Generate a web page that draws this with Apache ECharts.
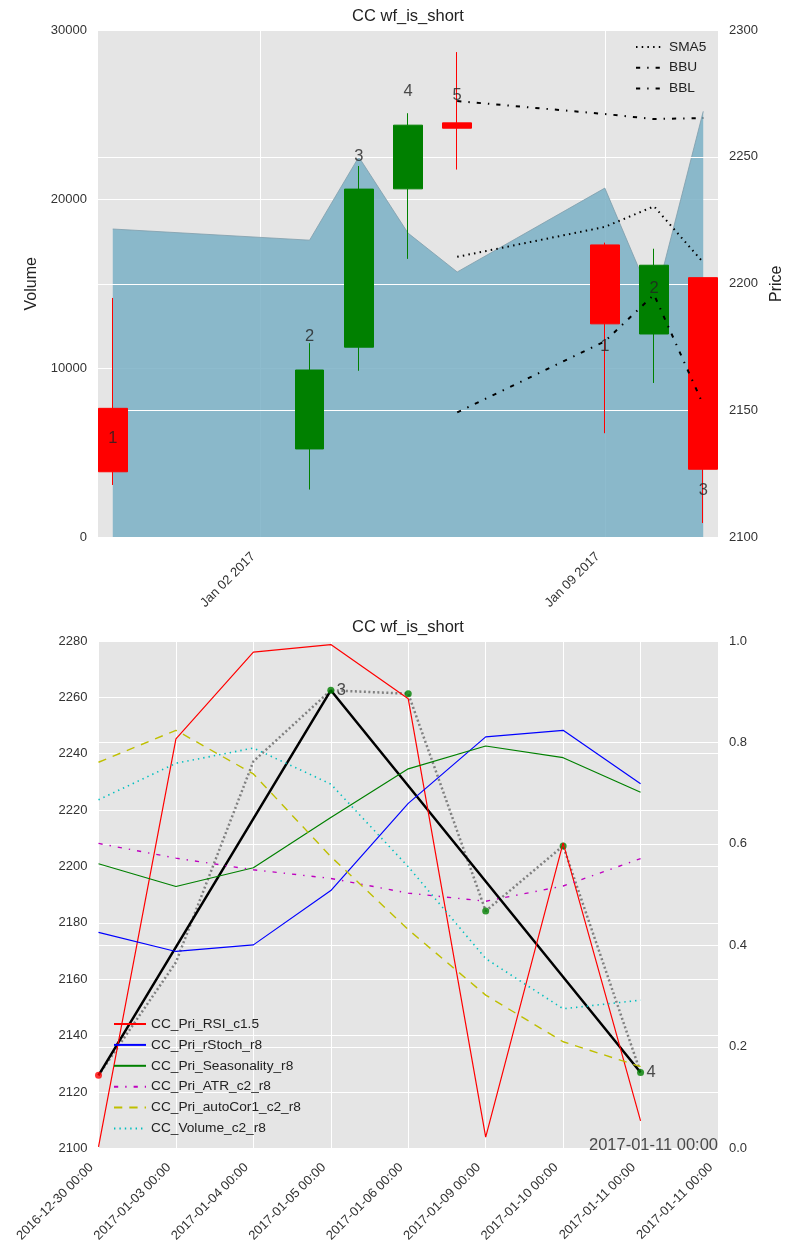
<!DOCTYPE html>
<html><head><meta charset="utf-8">
<script src="https://cdn.jsdelivr.net/npm/echarts@6/dist/echarts.min.js"></script>
<style>html,body{margin:0;padding:0;background:#fff}#c{width:790px;height:1256px}</style>
</head><body><div id="c"></div>
<script>
// ---------- top chart data ----------
const candleDates = ['2016-12-30','2017-01-03','2017-01-04','2017-01-05','2017-01-06','2017-01-09','2017-01-10','2017-01-11'];
const candleOpen  = [2150.9, 2134.9, 2175.0, 2237.4, 2263.4, 2215.3, 2180.2, 2202.4];
const candleClose = [2125.9, 2166.0, 2237.3, 2262.5, 2261.3, 2184.2, 2207.3, 2126.9];
const candleLow   = [2120.7, 2118.9, 2165.7, 2209.8, 2245.0, 2141.1, 2160.9, 2105.7];
const candleHigh  = [2194.4, 2176.6, 2246.4, 2267.2, 2291.3, 2216.2, 2213.8, 2202.4];
const volume      = [18236, 17576, 22494, 17996, 15696, 20655, 13800, 25194];
const bandDates   = ['2017-01-06','2017-01-09','2017-01-10','2017-01-11'];
const sma5        = [2210.6, 2222.4, 2230.5, 2208.4];
const bbu         = [2272.0, 2266.9, 2264.9, 2265.3];
const bbl         = [2149.3, 2177.3, 2195.7, 2152.3];
const topLabelPrices = [2139.1, 2179.3, 2250.3, 2275.6, 2274.4, 2175.4, 2198.0, 2118.4];
const topLabelTexts  = ['1','2','3','4','5','1','2','3'];
const topTickDates   = ['2017-01-02','2017-01-09'];

// ---------- bottom chart data ----------
const bottomCats = ['2016-12-30 00:00','2017-01-03 00:00','2017-01-04 00:00','2017-01-05 00:00','2017-01-06 00:00','2017-01-09 00:00','2017-01-10 00:00','2017-01-11 00:00','2017-01-11 00:00'];
const rsi         = [0.003, 0.807, 0.978, 0.993, 0.886, 0.022, 0.602, 0.054];
const rStoch      = [0.4255, 0.388, 0.401, 0.508, 0.680, 0.811, 0.824, 0.7187];
const seasonality = [0.561, 0.516, 0.553, 0.652, 0.748, 0.793, 0.770, 0.702];
const atr         = [0.601, 0.572, 0.549, 0.532, 0.503, 0.487, 0.517, 0.571];
const autoCor     = [0.761, 0.824, 0.738, 0.575, 0.431, 0.302, 0.210, 0.161];
const volNorm     = [0.687, 0.759, 0.789, 0.718, 0.555, 0.374, 0.275, 0.292];
const closeLine   = [2125.9, 2166.0, 2237.3, 2262.5, 2261.3, 2184.2, 2207.3, 2126.9];
const tradeLine   = [2125.9, null, null, 2262.5, null, null, null, 2126.9];
const entryIdx = [0],             entryPrice = [2125.9];
const exitIdx  = [3, 4, 5, 6, 7], exitPrice  = [2262.5, 2261.3, 2184.2, 2207.3, 2126.9];
const tradeLabelIdx = [3, 7], tradeLabelPrice = [2262.5, 2126.9], tradeLabelText = ['3', '4'];
const noteIdx = 8, notePrice = 2100, noteText = '2017-01-11 00:00';

// ---------- helpers ----------
const DAY = 86400000;
const ts = s => { const p = s.split('-').map(Number); return Date.UTC(p[0], p[1] - 1, p[2]); };
const MONTHS = ['Jan','Feb','Mar','Apr','May','Jun','Jul','Aug','Sep','Oct','Nov','Dec'];
const fmtTop = v => { const d = new Date(v); return MONTHS[d.getUTCMonth()] + ' ' + String(d.getUTCDate()).padStart(2, '0') + ' ' + d.getUTCFullYear(); };
const FONT = 'Liberation Sans, Arial, Helvetica, sans-serif';
const TICK = '#333';
const CANDLE_PAD = 0.3 * DAY;
const plain = v => String(v);

const chart = echarts.init(document.getElementById('c'), null, {renderer: 'canvas'});

const gridLine = {show: true, lineStyle: {color: '#ffffff', width: 1}};
const dotted = [1.5, 4.2];
const dashdot = [4.2, 7, 1.4, 7];

function lineSeries(name, data, color, type, width, yIdx, xIdx, z, extra) {
  return Object.assign({
    name, type: 'line', xAxisIndex: xIdx, yAxisIndex: yIdx, data, symbol: 'none', z,
    lineStyle: {color, width, type}, itemStyle: {color}, animation: false
  }, extra || {});
}

const option = {
  animation: false,
  backgroundColor: '#ffffff',
  textStyle: {fontFamily: FONT},
  graphic: [
    {type: 'text', x: 408, y: 16.5, style: {text: 'CC wf_is_short', fill: '#222', font: '16.5px ' + FONT, align: 'center', verticalAlign: 'middle'}},
    {type: 'text', x: 408, y: 627, style: {text: 'CC wf_is_short', fill: '#222', font: '16.5px ' + FONT, align: 'center', verticalAlign: 'middle'}}
  ],
  grid: [
    {left: 98, right: 72, top: 30, height: 507.5, show: true, backgroundColor: '#e5e5e5', borderWidth: 0, outerBoundsMode: 'none', containLabel: false},
    {left: 98.5, right: 72, top: 641, height: 507.3, show: true, backgroundColor: '#e5e5e5', borderWidth: 0, outerBoundsMode: 'none', containLabel: false}
  ],
  legend: [
    {data: ['SMA5', 'BBU', 'BBL'], orient: 'vertical', left: 635, top: 40, padding: 0, itemWidth: 28, itemHeight: 14, itemGap: 6.7,
     textStyle: {fontSize: 13.7, color: '#222', fontFamily: FONT}, itemStyle: {opacity: 0}, selectedMode: false},
    {data: ['CC_Pri_RSI_c1.5','CC_Pri_rStoch_r8','CC_Pri_Seasonality_r8','CC_Pri_ATR_c2_r8','CC_Pri_autoCor1_c2_r8','CC_Volume_c2_r8'],
     orient: 'vertical', left: 113, top: 1017, padding: 0, itemWidth: 32, itemHeight: 14, itemGap: 6.9,
     textStyle: {fontSize: 13.7, color: '#222', fontFamily: FONT}, itemStyle: {opacity: 0}, selectedMode: false}
  ],
  xAxis: [
    {type: 'value', gridIndex: 0, min: ts(candleDates[0]) - CANDLE_PAD, max: ts(candleDates[candleDates.length - 1]) + CANDLE_PAD,
     axisLine: {show: false}, axisTick: {show: false, customValues: topTickDates.map(ts)},
     axisLabel: {customValues: topTickDates.map(ts), formatter: fmtTop, rotate: 45, margin: 10, padding: [0, 10, 0, 0], fontSize: 13, color: TICK, fontFamily: FONT},
     splitLine: gridLine, z: 0},
    {type: 'category', gridIndex: 1, data: bottomCats, boundaryGap: false,
     axisLine: {show: false}, axisTick: {show: false},
     axisLabel: {interval: 0, rotate: 45, margin: 10, padding: [0, 10, 0, 0], fontSize: 13, color: TICK, fontFamily: FONT},
     splitLine: Object.assign({interval: 0}, gridLine)}
  ],
  yAxis: [
    {type: 'value', gridIndex: 0, position: 'left', min: 0, max: 30000, interval: 10000,
     name: 'Volume', nameLocation: 'middle', nameRotate: 90, nameGap: 53, nameTextStyle: {fontSize: 16, color: '#222', fontFamily: FONT},
     axisLine: {show: false}, axisTick: {show: false}, axisLabel: {margin: 11, fontSize: 13, color: TICK, fontFamily: FONT, formatter: plain},
     splitLine: gridLine, z: 0},
    {type: 'value', gridIndex: 0, position: 'right', min: 2100, max: 2300, interval: 50,
     name: 'Price', nameLocation: 'middle', nameRotate: 90, nameGap: 46, nameTextStyle: {fontSize: 16, color: '#222', fontFamily: FONT},
     axisLine: {show: false}, axisTick: {show: false}, axisLabel: {margin: 11, fontSize: 13, color: TICK, fontFamily: FONT, formatter: plain},
     splitLine: gridLine, z: 2},
    {type: 'value', gridIndex: 1, position: 'left', min: 2100, max: 2280, interval: 20,
     axisLine: {show: false}, axisTick: {show: false}, axisLabel: {margin: 11, fontSize: 13, color: TICK, fontFamily: FONT, formatter: plain},
     splitLine: gridLine},
    {type: 'value', gridIndex: 1, position: 'right', min: 0, max: 1, interval: 0.2,
     axisLine: {show: false}, axisTick: {show: false}, axisLabel: {margin: 11, fontSize: 13, color: TICK, fontFamily: FONT, formatter: v => v.toFixed(1)},
     splitLine: gridLine}
  ],
  series: [
    lineSeries('Volume', candleDates.map((d, i) => [ts(d), volume[i]]), '#7f9dab', 'solid', 0.8, 0, 0, 1,
      {areaStyle: {color: 'rgba(122,176,198,0.85)', opacity: 1}}),
    {name: 'CC', type: 'candlestick', xAxisIndex: 0, yAxisIndex: 1, z: 3, barWidth: 29,
     encode: {x: 0, y: [1, 2, 3, 4]},
     data: candleDates.map((d, i) => [ts(d), candleOpen[i], candleClose[i], candleLow[i], candleHigh[i]]),
     itemStyle: {color: '#008000', color0: '#ff0000', borderColor: '#008000', borderColor0: '#ff0000', borderWidth: 1}},
    lineSeries('SMA5', bandDates.map((d, i) => [ts(d), sma5[i]]), '#000000', dotted, 2, 1, 0, 4),
    lineSeries('BBU', bandDates.map((d, i) => [ts(d), bbu[i]]), '#000000', dashdot, 2, 1, 0, 4),
    lineSeries('BBL', bandDates.map((d, i) => [ts(d), bbl[i]]), '#000000', dashdot, 2, 1, 0, 4),
    {name: 'candleLabels', type: 'scatter', xAxisIndex: 0, yAxisIndex: 1, z: 5, symbolSize: 1, clip: false,
     itemStyle: {color: 'rgba(0,0,0,0)'},
     data: candleDates.map((d, i) => [ts(d), topLabelPrices[i], topLabelTexts[i]]),
     label: {show: true, position: 'inside', formatter: p => p.value[2], fontSize: 16.5, color: '#222', fontFamily: FONT}},

    // bottom: price lines (left axis)
    lineSeries('close', closeLine, '#808080', [2, 2.5], 2.5, 2, 1, 2),
    lineSeries('trade', tradeLine, '#000000', 'solid', 2.5, 2, 1, 2, {connectNulls: true}),
    {name: 'entry', type: 'scatter', xAxisIndex: 1, yAxisIndex: 2, z: 2, symbolSize: 7,
     itemStyle: {color: '#ff0000'}, data: entryIdx.map((x, i) => [x, entryPrice[i]])},
    {name: 'exit', type: 'scatter', xAxisIndex: 1, yAxisIndex: 2, z: 2, symbolSize: 7,
     itemStyle: {color: '#008000'}, data: exitIdx.map((x, i) => [x, exitPrice[i]])},
    {name: 'tradeLabels', type: 'scatter', xAxisIndex: 1, yAxisIndex: 2, z: 5, symbolSize: 0, clip: false,
     itemStyle: {color: 'rgba(0,0,0,0)'},
     data: tradeLabelIdx.map((x, i) => [x, tradeLabelPrice[i], tradeLabelText[i]]),
     label: {show: true, position: 'right', distance: 6, formatter: p => p.value[2], fontSize: 16.5, color: '#222', fontFamily: FONT}},
    {name: 'note', type: 'scatter', xAxisIndex: 1, yAxisIndex: 2, z: 5, symbolSize: 0, clip: false,
     itemStyle: {color: 'rgba(0,0,0,0)'},
     data: [[noteIdx, notePrice, noteText]],
     label: {show: true, position: 'left', distance: 0, offset: [0, -3], formatter: p => p.value[2], fontSize: 16.5, color: '#222', fontFamily: FONT}},

    // bottom: indicators (right axis)
    lineSeries('CC_Pri_RSI_c1.5', rsi, '#ff0000', 'solid', 1.2, 3, 1, 3),
    lineSeries('CC_Pri_rStoch_r8', rStoch, '#0000ff', 'solid', 1.2, 3, 1, 3),
    lineSeries('CC_Pri_Seasonality_r8', seasonality, '#008000', 'solid', 1.2, 3, 1, 3),
    lineSeries('CC_Pri_ATR_c2_r8', atr, '#bf00bf', [4.2, 7, 1.4, 7], 1.4, 3, 1, 3),
    lineSeries('CC_Pri_autoCor1_c2_r8', autoCor, '#bfbf00', [8.3, 7], 1.4, 3, 1, 3),
    lineSeries('CC_Volume_c2_r8', volNorm, '#00bfbf', [1.4, 4], 1.6, 3, 1, 3)
  ]
};
chart.setOption(option);
</script>
</body></html>
